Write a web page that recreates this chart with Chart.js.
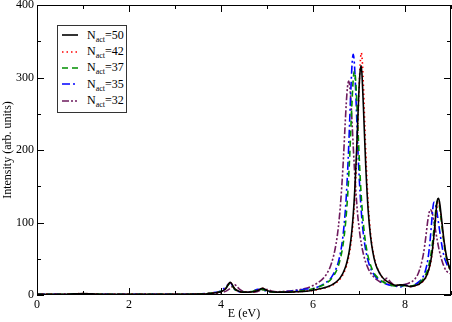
<!DOCTYPE html>
<html>
<head>
<meta charset="utf-8">
<script src="https://cdn.jsdelivr.net/npm/chart.js@4.4.0/dist/chart.umd.min.js"></script>
<style>
  html, body { margin: 0; padding: 0; background: #fff; }
  #wrap { position: relative; width: 452px; height: 322px; }
  #legend {
    position: absolute; left: 57px; top: 25px; width: 70px; height: 88px;
    border: 1px solid #333; background: #fff; box-sizing: border-box; padding-top: 1px;
    font-family: "Liberation Serif", "DejaVu Serif", serif; font-size: 12px; color: #000;
  }
  .row { height: 16.4px; display: flex; align-items: center; white-space: nowrap; }
  .row svg { margin-left: 4px; margin-right: 9px; }
  .row sub { font-size: 8px; vertical-align: -3px; line-height: 0; }
</style>
</head>
<body>
<div id="wrap">
  <canvas id="myChart" width="452" height="322"></canvas>
  <div id="legend"></div>
</div>
<script>
// photon energy grid (eV), shared by all curves
const energy = [
  0, 0.5, 0.8, 1.0, 1.2, 1.5, 2.0, 2.5, 3.0, 3.5, 3.8, 4.0, 4.1, 4.2, 4.3, 4.4, 4.5, 4.6, 4.7, 4.8, 4.9, 5.0, 5.1, 5.2, 5.4, 5.6, 5.8,
  6.0, 6.2, 6.3, 6.4, 6.5, 6.55, 6.6, 6.65, 6.7,
  6.725, 6.75, 6.775, 6.8, 6.825, 6.85, 6.875, 6.9, 6.925, 6.95, 6.975, 7.0, 7.025, 7.05, 7.075, 7.1, 7.125, 7.15,
  7.2, 7.25, 7.3, 7.35, 7.4,
  7.5, 7.6, 7.7, 7.8, 7.9, 8.0, 8.1, 8.2, 8.3, 8.4,
  8.45, 8.5, 8.55, 8.575, 8.6, 8.625, 8.65, 8.7, 8.725, 8.75,
  8.8, 8.85, 8.9, 8.95, 9.0
];

const nAct = [50, 42, 37, 35, 32];

const int50 = [
  1, 1, 1.5, 2, 1.5, 1, 1, 1, 1, 1.2, 2.5, 4.6, 8.4, 17.5, 8.5, 4.9, 4.0, 3.9, 4.4, 6.1, 9.1, 6.2, 4.5, 3.9, 3.9, 4.3, 5,
  6.6, 9.2, 11, 13.6, 17.7, 20.6, 24.6, 30, 37.5,
  42.5, 48.6, 56, 65.4, 77, 92, 111, 135, 166, 203, 244, 284, 309, 316, 291, 253, 212, 173,
  116, 81, 59.5, 45, 36,
  25, 19, 15.4, 13.3, 14, 13.6, 11.7, 12.6, 14.8, 20,
  24.4, 31.7, 43.7, 52.6, 64.3, 79.3, 96.7, 130, 133.5, 128.5,
  102, 74, 54, 41, 33
];
const int42 = [
  1, 1, 1.5, 2, 1.5, 1, 1, 1, 1, 1.2, 2.6, 4.8, 9, 17, 8.2, 4.8, 4, 3.9, 4.5, 6.3, 9.3, 6.4, 4.6, 4, 4, 4.4, 5.1,
  6.4, 8.9, 10.6, 13, 16.8, 19.6, 23.2, 28.2, 35,
  39.7, 45.2, 52, 60.6, 71.3, 85, 102.5, 125, 154, 191, 235, 281, 318, 334, 319, 282, 236, 192,
  126, 86, 62, 46.5, 37,
  25, 19, 15.4, 13.3, 14, 13.5, 11.5, 12.4, 14.5, 19.3,
  23.6, 30.6, 42, 50.5, 61.6, 75.8, 92.7, 124, 128, 124,
  99, 72, 52, 40, 32
];
const int37 = [
  1, 1, 1.3, 1.8, 1.3, 1, 1, 1, 1, 1.2, 2.8, 5.2, 9.5, 16, 7.8, 4.6, 3.9, 4.1, 5.2, 7.8, 7.6, 5.2, 4.2, 4, 4.2, 4.8, 6.2,
  8.7, 13.2, 16.7, 22.4, 32.2, 40, 51.4, 68, 94,
  112, 134, 162, 195, 233, 269, 298, 309, 298, 269, 233, 196, 163, 135, 113, 95, 80.6, 69,
  52.5, 41.3, 33.6, 28, 24.4,
  19, 15.7, 13.6, 12.3, 13, 13, 12.2, 13.5, 16.4, 22.5,
  28, 36.6, 50.7, 61, 73.3, 88.6, 105, 129, 128, 122,
  96, 70, 51, 40, 33
];
const int35 = [
  1, 1, 1.3, 1.8, 1.3, 1, 1, 1, 1, 1.3, 3, 5.8, 11, 16.5, 7.5, 4.5, 3.8, 4.2, 5.5, 8, 7.2, 5, 4.2, 4.1, 4.4, 6, 7.9,
  9, 14, 18, 24.3, 36, 45.3, 59.3, 80.5, 114,
  137.6, 167, 203, 245, 286, 319, 332, 319, 286, 245, 203, 168, 138.6, 115, 96, 81.5, 69.7, 60.3,
  46.5, 37.2, 30.6, 25.8, 22.5,
  17.8, 15, 13.2, 12.2, 11, 14, 11.4, 13.8, 18, 26,
  35, 50, 78, 97, 116, 128, 127, 112, 101, 90,
  69, 53, 44, 38, 36
];
const int32 = [
  1, 1, 1.3, 1.8, 1.3, 1, 1, 1, 1, 1.2, 2, 3.2, 5, 9, 14, 8, 4.5, 3.8, 4, 5, 7.2, 7.5, 5.5, 4.5, 5.2, 6.5, 8.5,
  13, 21.6, 29.5, 43.3, 70, 93, 127, 175, 237,
  266, 287, 295, 287, 266, 237, 205, 175, 149, 127, 108, 94, 81, 71, 62.4, 55.3, 49.3, 44.3,
  36.5, 30.7, 26.4, 23, 20.5,
  17, 23, 17, 12.5, 14, 14.7, 17, 21, 31.6, 56.5,
  78.7, 104.7, 118, 116, 111, 103, 94, 76, 67.5, 60,
  48, 39, 33, 31, 29
];

const seriesValues = [int50, int42, int37, int35, int32];
const lineColors = ['#000000', '#ff0000', '#009000', '#0000ff', '#6e1b5e'];
const lineDashes = [[], [1.5, 3], [6, 4], [8, 3, 2, 3], [7, 2, 2, 2, 2, 2]];

const serif = '"Liberation Serif", "DejaVu Serif", serif';
const ctx = document.getElementById('myChart');

// inward ticks on all four sides + frame, grace style
const frameTicks = {
  id: 'frameTicks',
  afterDatasetsDraw(chart) {
    const {ctx, chartArea: a, scales: {x, y}} = chart;
    ctx.save();
    ctx.strokeStyle = '#000';
    ctx.lineWidth = 1;
    ctx.beginPath();
    for (let v = 0; v <= 9; v++) {
      const px = Math.round(x.getPixelForValue(v)) + 0.5;
      const len = v % 2 === 0 ? 7 : 4;
      ctx.moveTo(px, a.bottom); ctx.lineTo(px, a.bottom - len);
      ctx.moveTo(px, a.top); ctx.lineTo(px, a.top + len);
    }
    for (let v = 0; v <= 400; v += 50) {
      const py = Math.round(y.getPixelForValue(v)) + 0.5;
      const len = v % 100 === 0 ? 7 : 4;
      ctx.moveTo(a.left, py); ctx.lineTo(a.left + len, py);
      ctx.moveTo(a.right, py); ctx.lineTo(a.right - len, py);
    }
    ctx.stroke();
    ctx.strokeRect(a.left + 0.5, a.top + 0.5, a.right - a.left - 1, a.bottom - a.top - 1);
    ctx.restore();
  }
};

const chart = new Chart(ctx, {
  type: 'line',
  data: {
    datasets: nAct.map((n, i) => ({
      label: 'N_act=' + n,
      data: energy.map((e, j) => ({x: e, y: seriesValues[i][j]})),
      borderColor: lineColors[i],
      borderDash: lineDashes[i],
      borderWidth: 1.6,
      pointRadius: 0,
      fill: false,
      cubicInterpolationMode: 'monotone'
    }))
  },
  options: {
    responsive: false,
    animation: false,
    devicePixelRatio: 1,
    layout: {padding: {top: 5, right: 1, left: 0, bottom: 0}},
    plugins: {legend: {display: false}, tooltip: {enabled: false}},
    scales: {
      x: {
        type: 'linear', min: 0, max: 9,
        grid: {display: false, drawTicks: false},
        border: {display: false},
        ticks: {stepSize: 2, includeBounds: false, color: '#000', padding: 3, maxRotation: 0,
                font: {family: serif, size: 12}},
        title: {display: true, text: 'E (eV)', color: '#000', padding: {top: 0, bottom: 1},
                font: {family: serif, size: 12}},
        afterFit: s => { s.height = 27; s.paddingLeft = 0; s.paddingRight = 0; }
      },
      y: {
        min: 0, max: 400,
        grid: {display: false, drawTicks: false},
        border: {display: false},
        ticks: {stepSize: 100, color: '#000', padding: 3, font: {family: serif, size: 12}},
        title: {display: true, text: 'Intensity (arb. units)', color: '#000', padding: {top: 1, bottom: 0},
                font: {family: serif, size: 12}},
        afterFit: s => { s.width = 37; s.paddingTop = 0; s.paddingBottom = 0; }
      }
    }
  },
  plugins: [frameTicks]
});

// legend with subscripts, built from the datasets
const legend = document.getElementById('legend');
chart.data.datasets.forEach((ds, i) => {
  const row = document.createElement('div');
  row.className = 'row';
  const dash = lineDashes[i].length ? lineDashes[i].join(' ') : 'none';
  row.innerHTML =
    '<svg width="16" height="8"><line x1="0" y1="4" x2="16" y2="4" stroke="' + lineColors[i] +
    '" stroke-width="1.6" stroke-dasharray="' + dash + '"/></svg>' +
    '<span>N<sub>act</sub>=' + nAct[i] + '</span>';
  legend.appendChild(row);
});
</script>
</body>
</html>
